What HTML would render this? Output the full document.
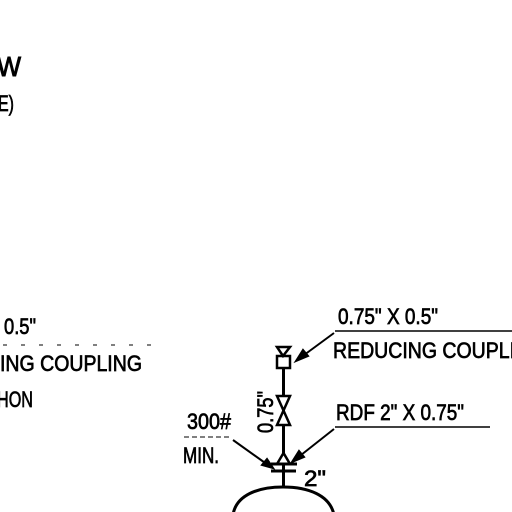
<!DOCTYPE html>
<html><head><style>
html,body{margin:0;padding:0;background:#fff;}
svg{display:block;}
text{font-family:"Liberation Sans",sans-serif;fill:#000;font-size:22px;stroke:#000;stroke-width:0.7px;}
</style></head>
<body>
<svg width="512" height="512" viewBox="0 0 512 512">
<g stroke="#000" fill="none" stroke-width="2">
  <text x="-3" y="76" style="font-size:28px;stroke-width:1px" textLength="24" lengthAdjust="spacingAndGlyphs">W</text>
  <text x="-2" y="111" textLength="16" lengthAdjust="spacingAndGlyphs">E)</text>

  <text x="4" y="334" textLength="32" lengthAdjust="spacingAndGlyphs">0.5"</text>
  <line x1="3" y1="345" x2="155" y2="345" stroke-dasharray="4 14" stroke-width="1"/>
  <text x="0" y="371" textLength="142" lengthAdjust="spacingAndGlyphs">ING COUPLING</text>
  <text x="-3" y="407" textLength="36" lengthAdjust="spacingAndGlyphs">HON</text>

  <text x="338" y="324" textLength="100" lengthAdjust="spacingAndGlyphs">0.75" X 0.5"</text>
  <line x1="335" y1="331" x2="512" y2="331" stroke-width="1.5"/>
  <text x="333" y="358" textLength="182" lengthAdjust="spacingAndGlyphs">REDUCING COUPLI</text>
  <line x1="334" y1="333" x2="300" y2="358"/>
  <polygon points="296,361 303,350 308,356" fill="#000"/>

  <text x="336" y="420" textLength="128" lengthAdjust="spacingAndGlyphs">RDF 2" X 0.75"</text>
  <line x1="335" y1="427" x2="490" y2="427" stroke-width="1.5"/>
  <line x1="334" y1="429" x2="296" y2="459"/>
  <polygon points="292,462 299,451 304,457" fill="#000"/>

  <text x="187" y="429" textLength="44" lengthAdjust="spacingAndGlyphs">300#</text>
  <line x1="184" y1="437" x2="230" y2="437" stroke-dasharray="5 3" stroke-width="1"/>
  <text x="183" y="463" textLength="36" lengthAdjust="spacingAndGlyphs">MIN.</text>
  <line x1="233" y1="440" x2="268" y2="465"/>
  <polygon points="273,468 262,465 267,459" fill="#000"/>

  <text x="304" y="486" textLength="22" lengthAdjust="spacingAndGlyphs">2"</text>
  <text transform="translate(273,433) rotate(-90)" textLength="42" lengthAdjust="spacingAndGlyphs">0.75"</text>

  <polygon points="277,347 290,347 283,356" stroke-width="2.5"/>
  <rect x="277" y="356" width="13" height="12" stroke-width="2.5"/>
  <line x1="283.5" y1="368" x2="283.5" y2="486" stroke-width="3"/>
  <polygon points="277,396 290,396 277,425 290,425" fill="#fff" stroke-width="2.5"/>
  <polygon points="283.5,453 277,464 290,464" fill="#fff" stroke-width="2.5"/>
  <line x1="271" y1="464" x2="297" y2="464" stroke-width="3"/>
  <line x1="271" y1="471" x2="296" y2="471" stroke-width="3"/>
  <path d="M233,515 C236,495 258,487 283,487 C308,487 330,495 334,515" stroke-width="3"/>
</g>
</svg>
</body></html>
